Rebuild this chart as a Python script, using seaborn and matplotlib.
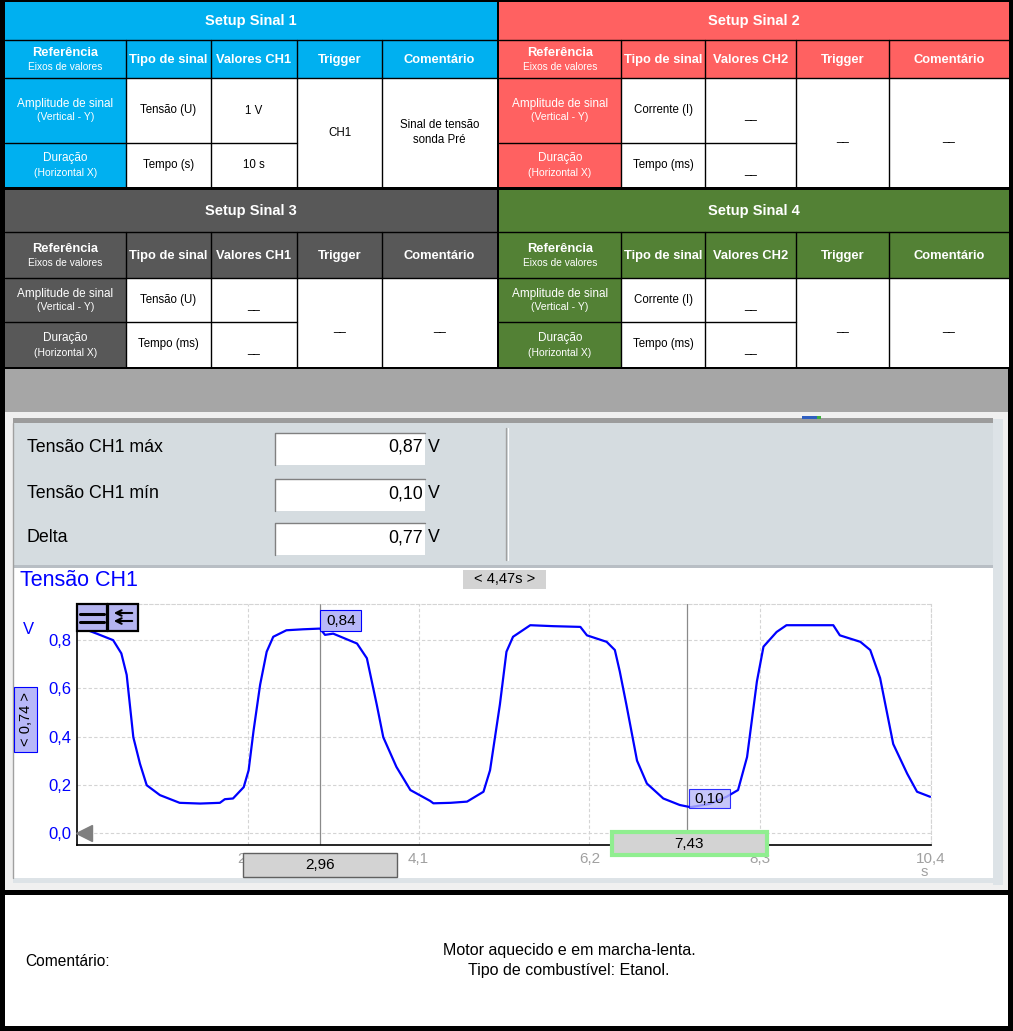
import matplotlib
matplotlib.use("Agg")
import matplotlib.pyplot as plt
import matplotlib.patches as mpatches
import pandas as pd
import seaborn as sns

# ---------------- data ----------------
setup_titles = ['Setup Sinal 1', 'Setup Sinal 2', 'Setup Sinal 3', 'Setup Sinal 4']
setup_colors = ['#00B0F0', '#FF6161', '#585858', '#538135']
valores_hdr = ['Valores CH1', 'Valores CH2', 'Valores CH1', 'Valores CH2']
tipo_amp = ['Tensão (U)', 'Corrente (I)', 'Tensão (U)', 'Corrente (I)']
tipo_dur = ['Tempo (s)', 'Tempo (ms)', 'Tempo (ms)', 'Tempo (ms)']
val_amp = ['1 V', '__', '__', '__']
val_dur = ['10 s', '__', '__', '__']
trigger = ['CH1', '__', '__', '__']
comentario = ['Sinal de tensão\nsonda Pré', '__', '__', '__']

meas_labels = ['Tensão CH1 máx', 'Tensão CH1 mín', 'Delta']
meas_values = ['0,87', '0,10', '0,77']

t_s = [0.00, 0.10, 0.24, 0.44, 0.54, 0.605, 0.686, 0.767, 0.849, 1.01, 1.10, 1.25,
       1.50, 1.74, 1.80, 1.90, 2.03, 2.09, 2.15, 2.23, 2.31, 2.39, 2.55, 2.75, 2.96,
       3.02, 3.12, 3.41, 3.53, 3.65, 3.73, 3.89, 4.06, 4.30, 4.34, 4.55, 4.75, 4.95,
       5.03, 5.15, 5.23, 5.31, 5.52, 5.80, 6.13, 6.21, 6.45, 6.55, 6.61, 6.69, 6.82,
       6.94, 7.14, 7.34, 7.47, 7.70, 7.91, 8.05, 8.16, 8.28, 8.36, 8.52, 8.64, 8.95,
       9.21, 9.29, 9.54, 9.66, 9.78, 9.94, 10.11, 10.23, 10.39]
v_ch1 = [0.848, 0.845, 0.827, 0.80, 0.745, 0.656, 0.397, 0.287, 0.198, 0.157, 0.145, 0.125,
         0.122, 0.125, 0.14, 0.143, 0.19, 0.26, 0.424, 0.615, 0.752, 0.814, 0.841, 0.845, 0.848,
         0.822, 0.827, 0.786, 0.725, 0.533, 0.397, 0.274, 0.178, 0.133, 0.123, 0.125, 0.13, 0.171,
         0.26, 0.533, 0.752, 0.814, 0.862, 0.858, 0.855, 0.82, 0.793, 0.759, 0.67, 0.533, 0.30,
         0.205, 0.143, 0.116, 0.107, 0.12, 0.15, 0.178, 0.315, 0.629, 0.773, 0.834, 0.862, 0.862,
         0.862, 0.82, 0.793, 0.759, 0.643, 0.369, 0.246, 0.171, 0.15]

x_ticks = [2.08, 4.16, 6.24, 8.32, 10.4]
x_ticklabels = ['2,1', '4,1', '6,2', '8,3', '10,4']
y_ticks = [0.0, 0.2, 0.4, 0.6, 0.8]
y_ticklabels = ['0,0', '0,2', '0,4', '0,6', '0,8']
cursor_t = [2.96, 7.43]
cursor_v = ['0,84', '0,10']
cursor_dt = '< 4,47s >'
cursor_dv = '< 0,74 >'
comment_lines = ['Motor aquecido e em marcha-lenta.', 'Tipo de combustível: Etanol.']

# ---------------- figure ----------------
sns.set_style('white')
plt.rcParams['font.family'] = ['Liberation Sans', 'DejaVu Sans']

W, H = 1013, 1031
fig = plt.figure(figsize=(W / 100, H / 100), dpi=100, facecolor='black')
bg = fig.add_axes([0, 0, 1, 1])
bg.set_xlim(0, W)
bg.set_ylim(H, 0)
bg.axis('off')


def rect(ax, x0, y0, x1, y1, fc, ec='none', lw=0, z=1, alpha=1):
    ax.add_patch(mpatches.Rectangle((x0, y0), x1 - x0, y1 - y0, facecolor=fc,
                                    edgecolor=ec, linewidth=lw, zorder=z, alpha=alpha))


def txt(ax, x, y, s, size=8.5, color='black', weight='normal', ha='center', **kw):
    ax.text(x, y, s, fontsize=size, color=color, fontweight=weight, ha=ha, va='center', **kw)


def section(i, cols, rows):
    c = setup_colors[i]
    x0, x1 = cols[0], cols[-1]
    rect(bg, x0, rows[0], x1, rows[4], 'white')
    rect(bg, x0, rows[0], x1, rows[2], c)
    rect(bg, cols[0], rows[2], cols[1], rows[4], c)
    lk = dict(color='black', lw=1, zorder=3)
    bg.plot([x0, x1], [rows[1], rows[1]], **lk)
    bg.plot([x0, x1], [rows[2], rows[2]], **lk)
    bg.plot([cols[0], cols[3]], [rows[3], rows[3]], **lk)
    for cx in cols[1:-1]:
        bg.plot([cx, cx], [rows[1], rows[4]], **lk)
    mid = lambda a, b: (a + b) / 2
    txt(bg, mid(x0, x1), mid(rows[0], rows[1]), setup_titles[i], 10.5, 'white', 'bold')
    hy = mid(rows[1], rows[2])
    txt(bg, mid(cols[0], cols[1]), hy - 6, 'Referência', 9.3, 'white', 'bold')
    txt(bg, mid(cols[0], cols[1]), hy + 8, 'Eixos de valores', 7.3, 'white')
    for k, h in enumerate(['Tipo de sinal', valores_hdr[i], 'Trigger', 'Comentário']):
        txt(bg, mid(cols[k + 1], cols[k + 2]), hy + 1, h, 9.3, 'white', 'bold')
    r1 = mid(rows[2], rows[3])
    r2 = mid(rows[3], rows[4])
    txt(bg, mid(cols[0], cols[1]), r1 - 6.5, 'Amplitude de sinal', 8.5, 'white')
    txt(bg, mid(cols[0], cols[1]), r1 + 7, '(Vertical - Y)', 7.5, 'white')
    txt(bg, mid(cols[0], cols[1]), r2 - 7, 'Duração', 8.5, 'white')
    txt(bg, mid(cols[0], cols[1]), r2 + 8, '(Horizontal X)', 7.5, 'white')
    txt(bg, mid(cols[1], cols[2]), r1, tipo_amp[i], 8.3)
    txt(bg, mid(cols[1], cols[2]), r2, tipo_dur[i], 8.3)
    dy = lambda s: 5 if s.startswith('_') else 0
    txt(bg, mid(cols[2], cols[3]), r1 + dy(val_amp[i]), val_amp[i], 8.3)
    txt(bg, mid(cols[2], cols[3]), r2 + dy(val_dur[i]), val_dur[i], 8.3)
    rm = mid(rows[2], rows[4])
    txt(bg, mid(cols[3], cols[4]), rm + dy(trigger[i]), trigger[i], 8.3)
    txt(bg, mid(cols[4], cols[5]), rm + dy(comentario[i]), comentario[i], 8.3, linespacing=1.25)


left_cols = [5, 126, 211, 297, 382, 497]
right_cols = [499, 621, 705, 796, 889, 1009]
top_rows = [2, 40, 78, 143, 187]
bot_rows = [190, 232, 278, 322, 367]
section(0, left_cols, top_rows)
section(1, right_cols, top_rows)
section(2, left_cols, bot_rows)
section(3, right_cols, bot_rows)

# screen capture area
rect(bg, 5, 369, 1008, 412, '#A6A6A6')
rect(bg, 5, 412, 1008, 890, '#F0F0F0')
rect(bg, 13, 418, 993, 423, '#9C9C9C')
rect(bg, 802, 416, 817, 419, '#2F5FC0', z=2)
rect(bg, 817, 416, 821, 419, '#40B040', z=2)
rect(bg, 993, 419, 1003, 885, '#DDE3E7')
rect(bg, 13, 423, 993, 565, '#D5DCE0')
bg.plot([13, 13], [423, 878], color='#A0A0A0', lw=1, zorder=3)
bg.plot([506, 506], [428, 560], color='#A0A0A0', lw=1, zorder=3)
bg.plot([507.5, 507.5], [428, 560], color='white', lw=0.8, zorder=3)
for k, (lab, val) in enumerate(zip(meas_labels, meas_values)):
    yc = [447, 494, 538][k]
    y0, y1 = [433, 479, 523][k], [465, 511, 555][k]
    rect(bg, 275, y0, 425, y1, 'white', z=2)
    bg.plot([275, 275, 425], [y1, y0, y0], color='#808080', lw=1, zorder=3)
    txt(bg, 27, yc, lab, 12.8, ha='left')
    txt(bg, 423, yc, val, 12.8, ha='right', zorder=4)
    txt(bg, 428, yc, 'V', 12.8, ha='left')
rect(bg, 13, 565, 993, 568, '#B8BEC4')
rect(bg, 14, 568, 993, 878, 'white')
rect(bg, 13, 878, 1003, 883, '#DDE3E7')

# comment box
rect(bg, 5, 895, 1008, 1026, 'white')
txt(bg, 25, 962, 'Comentário:', 11.2, ha='left')
txt(bg, 569, 950, comment_lines[0], 11.5)
txt(bg, 569, 970, comment_lines[1], 11.5)

# ---------------- oscilloscope chart ----------------
AX0, AX1, AY0, AY1 = 77, 931, 604, 845
ax = fig.add_axes([AX0 / W, 1 - AY1 / H, (AX1 - AX0) / W, (AY1 - AY0) / H])
ax.set_facecolor('white')
df = pd.DataFrame({'t': t_s, 'v': v_ch1})
sns.lineplot(data=df, x='t', y='v', ax=ax, color='#0000FF', linewidth=1.6,
             estimator=None, sort=False)
ax.set_xlim(0, 10.4)
ax.set_ylim(-0.05, 0.95)
ax.set_xlabel('')
ax.set_ylabel('')
ax.set_xticks(x_ticks)
ax.set_xticklabels(x_ticklabels)
ax.set_yticks(y_ticks)
ax.set_yticklabels(y_ticklabels)
ax.tick_params(axis='x', length=0, pad=5, labelsize=11, labelcolor='#A0A0A0')
ax.tick_params(axis='y', length=0, pad=4, labelsize=12, labelcolor='#0000FF')
ax.grid(True, color='#D4D4D4', linestyle=(0, (3, 2)), linewidth=0.8)
for side in ['left', 'bottom']:
    ax.spines[side].set_color('black')
    ax.spines[side].set_linewidth(1.2)
for side in ['top', 'right']:
    ax.spines[side].set_color('#D4D4D4')
    ax.spines[side].set_linestyle((0, (3, 2)))
    ax.spines[side].set_linewidth(0.8)
for ct in cursor_t:
    ax.axvline(ct, color='#8A8A8A', lw=0.9, zorder=1)
ax.plot([0.008], [0], marker='<', ms=12, color='#7F7F7F', transform=ax.get_yaxis_transform(),
        clip_on=False, zorder=4)

# ---------------- overlay (cursor labels, icons) ----------------
ov = fig.add_axes([0, 0, 1, 1], zorder=5)
ov.set_facecolor('none')
ov.set_xlim(0, W)
ov.set_ylim(H, 0)
ov.axis('off')


def tx(t):
    return AX0 + (AX1 - AX0) * t / 10.4


txt(ov, 20, 581, 'Tensão CH1', 15.5, '#0000FF', ha='left')
txt(ov, 23, 629, 'V', 12, '#0000FF', ha='left')
txt(ov, 924, 872, 's', 10.5, '#A0A0A0')

# icons
rect(ov, 77, 604, 107, 631, '#B4B4F0', 'black', 1.6, z=3)
rect(ov, 108, 604, 138, 631, '#B4B4F0', 'black', 1.6, z=3)
ov.plot([80, 104], [614, 614], color='black', lw=2.2, zorder=4)
ov.plot([80, 104], [622, 622], color='black', lw=2.2, zorder=4)
for yy in (613, 621):
    ov.annotate('', xy=(111, yy), xytext=(135, yy),
                arrowprops=dict(arrowstyle='->', lw=1.5, color='black'), zorder=4)

# cursor value boxes
rect(ov, tx(cursor_t[0]), 610, tx(cursor_t[0]) + 41, 631, '#B8B8F8', '#0000FF', 0.8, z=3)
txt(ov, tx(cursor_t[0]) + 21, 621, cursor_v[0], 11, zorder=4)
rect(ov, tx(cursor_t[1]) + 2, 789, tx(cursor_t[1]) + 43, 808, '#B8B8F8', '#0000FF', 0.8, z=3, alpha=0.8)
txt(ov, tx(cursor_t[1]) + 22, 799, cursor_v[1], 11, zorder=4)

rect(ov, tx(cursor_t[0]) - 77, 853, tx(cursor_t[0]) + 77, 877, '#D3D3D3', '#606060', 1, z=3)
txt(ov, tx(cursor_t[0]), 865, '2,96', 11, zorder=4)
rect(ov, tx(cursor_t[1]) - 75, 832, tx(cursor_t[1]) + 80, 855, '#D3D3D3', '#90EE90', 3, z=3)
txt(ov, tx(cursor_t[1]) + 2, 844, '7,43', 11, zorder=4)

rect(ov, 463, 570, 546, 589, '#D3D3D3', z=3)
txt(ov, 504.5, 579, cursor_dt, 10.5, zorder=4)
rect(ov, 14, 687, 37, 752, '#B8B8F8', '#0000FF', 0.8, z=3)
txt(ov, 26, 719.5, cursor_dv, 10.5, rotation=90, zorder=4)

fig.savefig('out.png', dpi=100, facecolor='black')
